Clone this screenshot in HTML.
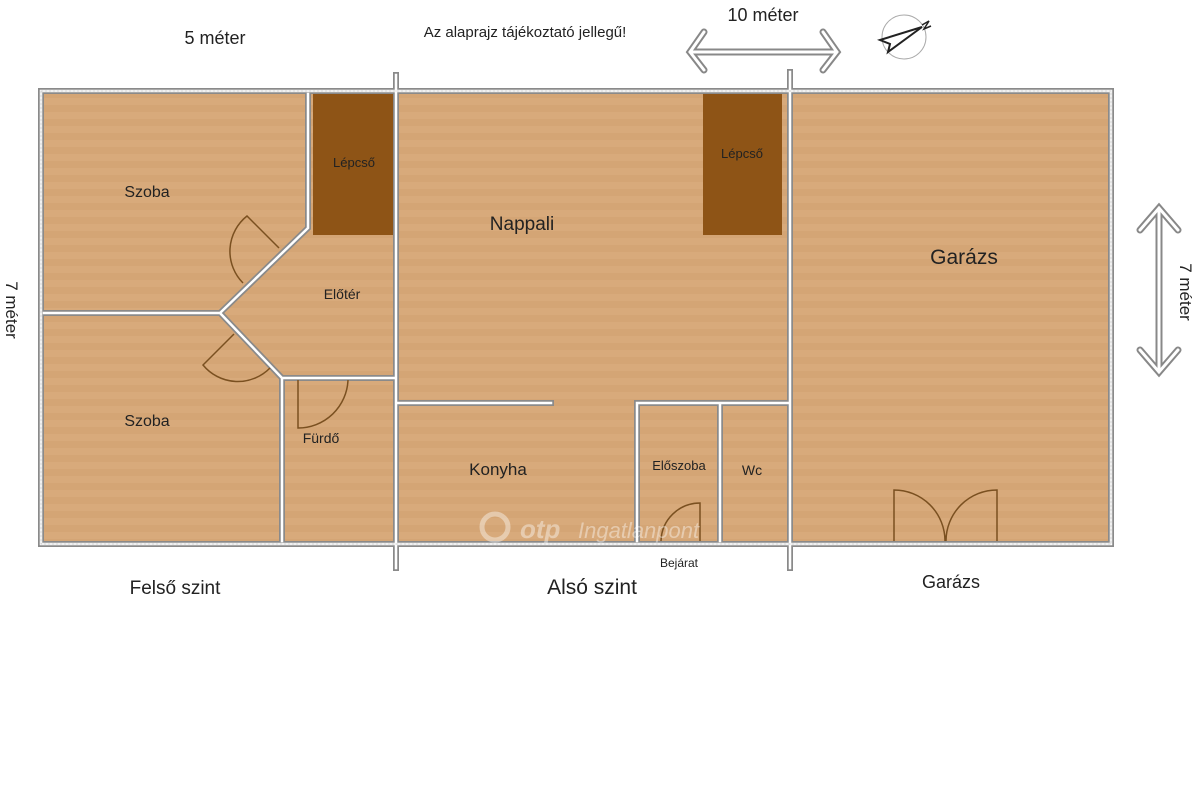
<!DOCTYPE html>
<html><head><meta charset="utf-8"><style>
html,body{margin:0;padding:0;background:#fff;}
svg{display:block;}
text{font-family:"Liberation Sans",sans-serif;fill:#222;}
</style></head><body>
<svg width="1200" height="795" viewBox="0 0 1200 795" xmlns="http://www.w3.org/2000/svg">
<defs>
<pattern id="wood" width="1200" height="14" patternUnits="userSpaceOnUse">
<rect width="1200" height="14" fill="#d8aa7b"/>
<rect y="7" width="1200" height="7" fill="#d4a575"/>
</pattern>
</defs>
<rect x="41" y="91" width="1070" height="453" fill="url(#wood)"/>
<rect x="313" y="94" width="80" height="141" fill="#8e5416"/>
<rect x="703" y="94" width="79" height="141" fill="#8e5416"/>
<g fill="none" stroke-linecap="square" stroke-linejoin="miter">
<g stroke="#8a8a8a" stroke-width="6">
<rect x="41" y="91" width="1070" height="453"/>
<path d="M396 75V568 M790 72V568 M308 94V228 L220 313 H44 M220 313 L282 378 H396 M282 378V541 M396 403H551 M637 541V403H790 M720 403V541"/>
</g>
<g stroke="#fff" stroke-width="2.5">
<rect x="41" y="91" width="1070" height="453"/>
<path d="M396 75V568 M790 72V568 M308 94V228 L220 313 H44 M220 313 L282 378 H396 M282 378V541 M396 403H551 M637 541V403H790 M720 403V541"/>
</g>
<g stroke="#c8c8c8" stroke-width="1" stroke-dasharray="2 2">
<rect x="41" y="91" width="1070" height="453"/>
</g>
</g>
<g fill="none" stroke="#7a5020" stroke-width="1.5">
<path d="M279 248 L247 216 A45 45 0 0 0 243 283"/>
<path d="M234 334 L203 365 A45 45 0 0 0 270 368"/>
<path d="M298 380 V428 A50 50 0 0 0 348 380"/>
<path d="M700 541 V503 A39 39 0 0 0 661 541"/>
<path d="M894 541 V490 A51 51 0 0 1 945 541"/>
<path d="M997 541 V490 A51 51 0 0 0 946 541"/>
</g>
<g fill="none" stroke-linecap="round">
<g stroke="#888" stroke-width="7">
<path d="M690 52H836 M704 32L690 52L704 70 M823 32L837 52L823 70"/>
<path d="M1159 208V372 M1140 230L1159 208L1178 230 M1140 350L1159 372L1178 350"/>
</g>
<g stroke="#fff" stroke-width="3">
<path d="M690 52H836 M704 32L690 52L704 70 M823 32L837 52L823 70"/>
<path d="M1159 208V372 M1140 230L1159 208L1178 230 M1140 350L1159 372L1178 350"/>
</g>
</g>
<circle cx="904" cy="37" r="22" fill="none" stroke="#aaa" stroke-width="1"/>
<path d="M880 40 L922 27 L888 52 L890 44 Z" fill="#fff" stroke="#222" stroke-width="2"/>
<path d="M922 25 L929 21 L924 29 L931 26" fill="none" stroke="#222" stroke-width="1.5"/>
<text x="215" y="44" font-size="18" text-anchor="middle">5 méter</text>
<text x="525" y="37" font-size="15" text-anchor="middle">Az alaprajz tájékoztató jellegű!</text>
<text x="763" y="21" font-size="18" text-anchor="middle">10 méter</text>
<text font-size="17" text-anchor="middle" transform="translate(6 310) rotate(90)">7 méter</text>
<text font-size="17" text-anchor="middle" transform="translate(1180 292) rotate(90)">7 méter</text>
<text x="147" y="197" font-size="16" text-anchor="middle">Szoba</text>
<text x="354" y="167" font-size="13" text-anchor="middle">Lépcső</text>
<text x="342" y="299" font-size="14" text-anchor="middle">Előtér</text>
<text x="147" y="426" font-size="16" text-anchor="middle">Szoba</text>
<text x="321" y="443" font-size="14" text-anchor="middle">Fürdő</text>
<text x="522" y="230" font-size="19" text-anchor="middle">Nappali</text>
<text x="742" y="158" font-size="13" text-anchor="middle">Lépcső</text>
<text x="964" y="264" font-size="21" text-anchor="middle">Garázs</text>
<text x="498" y="475" font-size="17" text-anchor="middle">Konyha</text>
<text x="679" y="470" font-size="13" text-anchor="middle">Előszoba</text>
<text x="752" y="475" font-size="14" text-anchor="middle">Wc</text>
<text x="679" y="567" font-size="12" text-anchor="middle">Bejárat</text>
<text x="175" y="594" font-size="19" text-anchor="middle">Felső szint</text>
<text x="592" y="594" font-size="21" text-anchor="middle">Alsó szint</text>
<text x="951" y="588" font-size="18" text-anchor="middle">Garázs</text>
<g opacity="0.4">
<circle cx="495" cy="527" r="13" fill="none" stroke="#fff" stroke-width="5"/>
<text x="520" y="538" font-size="26" font-weight="bold" font-style="italic" style="fill:#fff">otp</text>
<text x="578" y="538" font-size="22" font-style="italic" style="fill:#fff">Ingatlanpont</text>
</g>
</svg>
</body></html>
